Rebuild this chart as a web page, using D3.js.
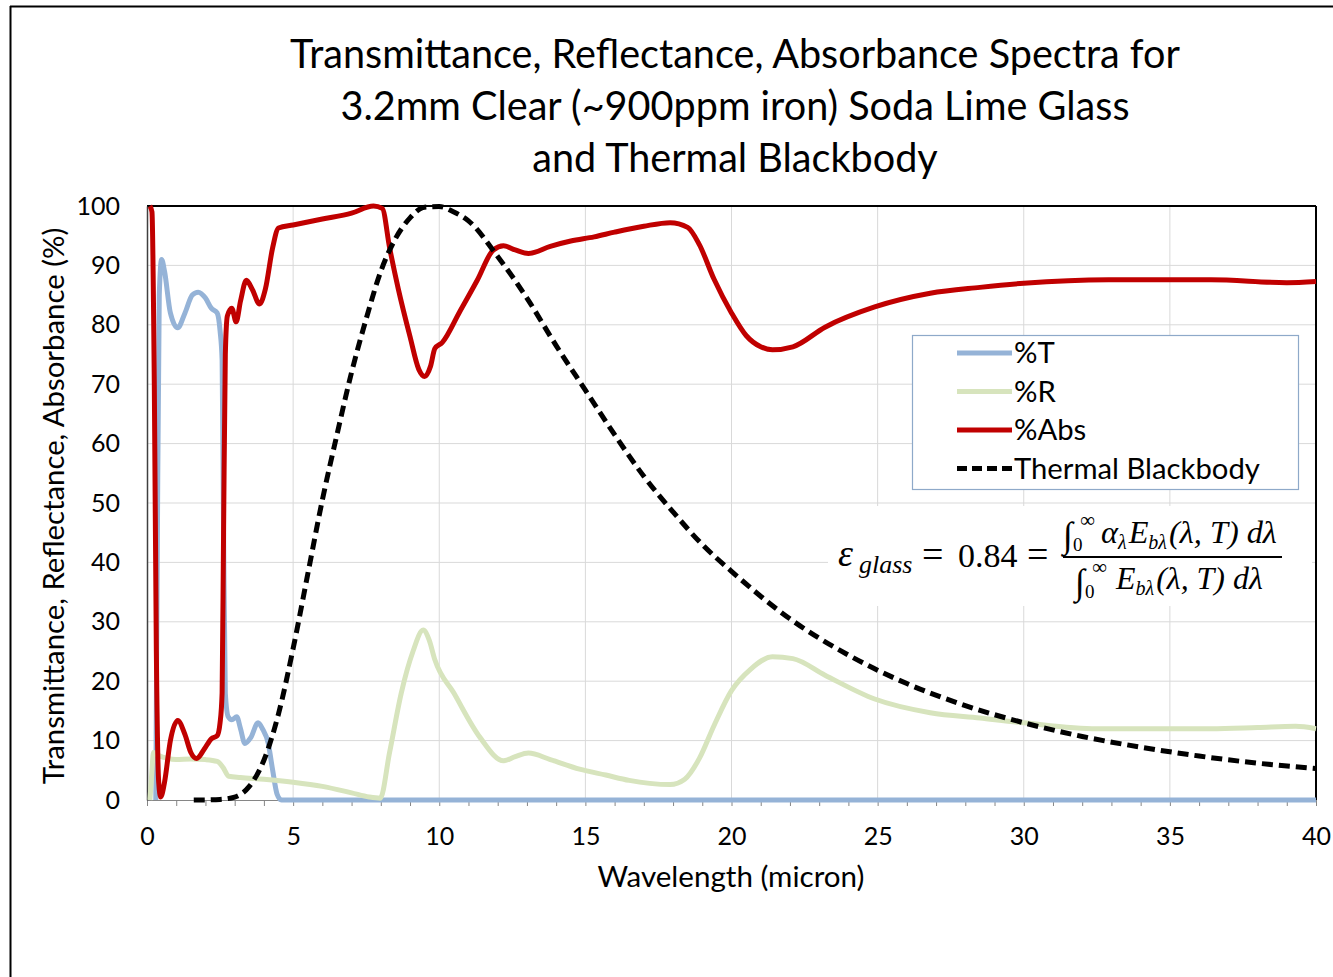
<!DOCTYPE html>
<html>
<head>
<meta charset="utf-8">
<script src="https://cdn.jsdelivr.net/npm/d3@7"></script>
<style>
  body { margin: 0; background: #fff; }
  svg { display: block; }
</style>
</head>
<body>
<div id="container"></div>
<script>

// data
var absData = [[0.1,100],[0.17,99],[0.25,70],[0.32,25],[0.4,3],[0.47,0.5],[0.6,3],[0.8,10],[1.05,13.4],[1.3,11],[1.5,8],[1.7,7],[1.95,8.5],[2.2,10.3],[2.4,10.8],[2.5,13],[2.57,18],[2.62,45],[2.68,75],[2.75,81.5],[2.9,82.8],[3.05,80.5],[3.2,84],[3.4,87.5],[3.6,86],[3.85,83.5],[4.05,86],[4.3,93],[4.5,96.3],[5,96.8],[6,97.8],[7,98.8],[7.75,100],[8.05,99.6],[8.3,93],[8.6,86],[9,78],[9.3,72.5],[9.5,71.3],[9.7,73],[9.85,76],[10.1,77],[10.7,82.2],[11.3,87.5],[11.85,92.6],[12.2,93.3],[12.6,92.6],[13.05,92],[13.8,93.2],[14.5,94.1],[15.3,94.8],[16,95.6],[17,96.6],[17.9,97.2],[18.5,96.4],[18.9,93.5],[19.4,87.7],[20,82],[20.5,78.2],[21,76.3],[21.4,75.8],[22.1,76.3],[23.2,79.6],[24.9,83],[26.8,85.3],[28.5,86.3],[30,87],[32.9,87.6],[36.4,87.6],[39,87.1],[40,87.3]];

var transData = [[0.3,0],[0.35,40],[0.42,85],[0.5,91],[0.6,89],[0.8,82],[1.05,79.5],[1.3,82],[1.55,85],[1.75,85.5],[2.0,84.5],[2.2,82.8],[2.4,82],[2.5,79],[2.57,74],[2.62,45],[2.68,18],[2.78,14],[2.9,13.5],[3.07,14],[3.2,12],[3.35,9.5],[3.55,10.5],[3.8,13],[3.95,12],[4.15,9.5],[4.3,5],[4.45,1],[4.6,0],[10,0],[20,0],[30,0],[40,0]];

var reflData = [[0.1,0],[0.17,5],[0.22,8],[0.4,7.5],[0.7,7],[1.0,6.8],[1.5,6.9],[2.0,6.8],[2.4,6.5],[2.6,5.5],[2.8,4],[3.2,3.8],[4,3.5],[5,3],[6,2.3],[7,1.2],[7.6,0.5],[7.98,0.3],[8.3,8],[8.7,18],[9.1,25],[9.45,28.6],[9.65,27],[9.85,23.6],[10.5,18],[11.4,10.5],[12.2,6.6],[12.6,7.3],[13.05,7.9],[13.8,6.8],[14.8,5.2],[15.7,4.2],[16.5,3.3],[17.2,2.8],[17.9,2.6],[18.4,3.5],[18.9,7],[19.4,12.5],[20,18.4],[20.65,22],[21.4,24.1],[22.1,23.8],[23.2,21],[24.9,17],[26.8,14.7],[28.5,13.8],[30,13],[32.5,12],[34.5,12],[36.4,12],[38,12.2],[39.3,12.4],[40,12]];

var bbData = [[1.6,0],[2,0.02],[2.5,0.1],[3,0.5],[3.5,2.3],[4,6.7],[4.5,14.5],[5,25.5],[5.5,38],[6,50.5],[6.5,61.5],[7,72],[7.5,81],[8,89],[8.5,94.5],[9,98],[9.5,99.8],[10,99.9],[10.5,99],[11,97.5],[12,91.5],[13,84.5],[14,76.5],[15,69],[16,61.5],[17,54.5],[18,48.5],[19,43],[20,38.5],[22,30.5],[24,24.4],[26,19.6],[28,15.9],[30,13],[32,10.7],[34,8.9],[36,7.4],[38,6.2],[40,5.3]];

var xMajor = [0, 5, 10, 15, 20, 25, 30, 35, 40];
var yMajor = [0, 10, 20, 30, 40, 50, 60, 70, 80, 90, 100];

var titleLines = ["Transmittance, Reflectance, Absorbance Spectra for",
                  "3.2mm Clear (~900ppm iron) Soda Lime Glass",
                  "and Thermal Blackbody"];

var series = [
  { name: "%T", data: transData, color: "#95B3D7", dash: null },
  { name: "%R", data: reflData, color: "#D7E4BD", dash: null },
  { name: "%Abs", data: absData, color: "#C00000", dash: null },
  { name: "Thermal Blackbody", data: bbData, color: "#000000", dash: "11,6" }
];

// layout
var W = 1333, H = 977,
    pLeft = 147, pRight = 1316, pTop = 206, pBottom = 800,
    font = "Lato, 'Open Sans', sans-serif",
    serif = "'Liberation Serif', 'DejaVu Serif', serif";

var svg = d3.select("#container").append("svg")
    .attr("width", W).attr("height", H);

// fit a text to a target width
function fit(sel, target) {
  var w = sel.node().getComputedTextLength();
  var fs = parseFloat(sel.attr("font-size"));
  sel.attr("font-size", fs * target / w);
  return sel;
}

// outer frame (top + left only, picture is cropped)
svg.append("line").attr("x1", 10).attr("x2", W).attr("y1", 6.5).attr("y2", 6.5)
    .attr("stroke", "#000").attr("stroke-width", 2);
svg.append("line").attr("x1", 10.5).attr("x2", 10.5).attr("y1", 6).attr("y2", H)
    .attr("stroke", "#000").attr("stroke-width", 2);

var x = d3.scaleLinear().domain([0, 40]).range([pLeft, pRight]);
var y = d3.scaleLinear().domain([0, 100]).range([pBottom, pTop]);

// grid
svg.append("g").selectAll("line")
    .data(yMajor.filter(function (d) { return d > 0 && d < 100; }))
    .enter().append("line")
    .attr("x1", pLeft).attr("x2", pRight)
    .attr("y1", function (d) { return y(d); }).attr("y2", function (d) { return y(d); })
    .attr("stroke", "#D9D9D9").attr("stroke-width", 1);

svg.append("g").selectAll("line")
    .data(xMajor.filter(function (d) { return d > 0 && d < 40; }))
    .enter().append("line")
    .attr("y1", pTop).attr("y2", pBottom)
    .attr("x1", function (d) { return x(d); }).attr("x2", function (d) { return x(d); })
    .attr("stroke", "#D9D9D9").attr("stroke-width", 1);

// plot frame
svg.append("line").attr("x1", pLeft).attr("x2", pRight).attr("y1", pTop).attr("y2", pTop)
    .attr("stroke", "#000").attr("stroke-width", 2);
svg.append("line").attr("x1", pRight).attr("x2", pRight).attr("y1", pTop).attr("y2", pBottom)
    .attr("stroke", "#000").attr("stroke-width", 2);

// axes
var minor = svg.append("g")
    .attr("transform", "translate(0," + pBottom + ")")
    .call(d3.axisBottom(x).tickValues(d3.range(0, 41, 1)).tickFormat("").tickSize(6).tickSizeOuter(0));
minor.select(".domain").attr("stroke", "#868686");
minor.selectAll(".tick line").attr("stroke", "#868686");

var xAxis = svg.append("g")
    .attr("transform", "translate(0," + pBottom + ")")
    .call(d3.axisBottom(x).tickValues(xMajor).tickSize(0).tickPadding(27).tickFormat(d3.format("d")));
xAxis.select(".domain").remove();
xAxis.selectAll("text").attr("font-family", font).attr("font-size", 25).attr("fill", "#000");

var yAxis = svg.append("g")
    .attr("transform", "translate(" + pLeft + ",0)")
    .call(d3.axisLeft(y).tickValues(yMajor).tickSize(0).tickPadding(27).tickFormat(d3.format("d")));
yAxis.select(".domain").attr("stroke", "#404040").attr("stroke-width", 1.5);
yAxis.selectAll("text").attr("font-family", font).attr("font-size", 25).attr("fill", "#000");

// series
var line = d3.line()
    .x(function (d) { return x(d[0]); })
    .y(function (d) { return y(d[1]); })
    .curve(d3.curveMonotoneX);

svg.append("g").selectAll("path")
    .data(series)
    .enter().append("path")
    .attr("d", function (d) { return line(d.data); })
    .attr("fill", "none")
    .attr("stroke", function (d) { return d.color; })
    .attr("stroke-width", 5)
    .attr("stroke-dasharray", function (d) { return d.dash; })
    .attr("stroke-linejoin", "round");

// title
var title = svg.append("g").attr("font-family", font).attr("fill", "#000").attr("text-anchor", "middle");
var t0 = title.append("text").attr("x", 735).attr("y", 68).attr("font-size", 34).text(titleLines[0]);
fit(t0, 890);
var tfs = t0.attr("font-size");
title.append("text").attr("x", 735).attr("y", 120).attr("font-size", tfs).text(titleLines[1]);
title.append("text").attr("x", 735).attr("y", 172).attr("font-size", tfs).text(titleLines[2]);

// axis titles
fit(svg.append("text").attr("x", 731).attr("y", 887)
    .attr("text-anchor", "middle").attr("font-family", font).attr("font-size", 24)
    .text("Wavelength (micron)"), 267);

fit(svg.append("text").attr("transform", "translate(64,506) rotate(-90)")
    .attr("text-anchor", "middle").attr("font-family", font).attr("font-size", 24)
    .text("Transmittance, Reflectance, Absorbance (%)"), 557);

// legend
var legend = svg.append("g");
legend.append("rect").attr("x", 912.5).attr("y", 335.5).attr("width", 386).attr("height", 154)
    .attr("fill", "#fff").attr("stroke", "#8EA9C9").attr("stroke-width", 1.2);

var rows = legend.selectAll("g.row").data(series).enter().append("g")
    .attr("transform", function (d, i) { return "translate(0," + (353 + i * 38.5) + ")"; });
rows.append("line").attr("x1", 957).attr("x2", 1012).attr("y1", 0).attr("y2", 0)
    .attr("stroke", function (d) { return d.color; })
    .attr("stroke-width", 5)
    .attr("stroke-dasharray", function (d) { return d.dash ? "10,5" : null; });
rows.append("text").attr("x", 1014).attr("y", 0).attr("dy", "0.35em")
    .attr("font-family", font).attr("font-size", 24).attr("fill", "#000")
    .text(function (d) { return d.name; });
fit(rows.filter(function (d, i) { return i == 3; }).select("text"), 246);
var lfs = rows.filter(function (d, i) { return i == 3; }).select("text").attr("font-size");
rows.selectAll("text").attr("font-size", lfs);

// emissivity equation
var eq = svg.append("g").attr("font-family", serif).attr("fill", "#000");
eq.append("rect").attr("x", 828).attr("y", 506).attr("width", 484).attr("height", 100).attr("fill", "#fff");

function put(txt, xx, yy, size, italic) {
  return eq.append("text").attr("x", xx).attr("y", yy).attr("font-size", size)
    .attr("font-style", italic ? "italic" : "normal").text(txt);
}

// left-hand side
put("\u03B5", 838, 566, 38, true);
put("glass", 859, 573, 26, true);
put("=", 922, 567, 38, false);
put("0.84", 958, 567, 34, false);
put("=", 1027, 567, 38, false);

eq.append("line").attr("x1", 1063).attr("x2", 1282).attr("y1", 557).attr("y2", 557)
    .attr("stroke", "#000").attr("stroke-width", 1.8);

// numerator
put("\u222B", 1063, 547, 36, false);
put("0", 1073, 551, 19, false);
put("\u221E", 1080, 527, 21, false);
var num = eq.append("text").attr("x", 1101).attr("y", 543).attr("font-size", 30).attr("font-style", "italic");
num.append("tspan").text("\u03B1");
num.append("tspan").attr("font-size", 20).attr("dy", 6).text("\u03BB");
num.append("tspan").attr("dy", -6).attr("dx", 2).text("E");
num.append("tspan").attr("font-size", 20).attr("dy", 6).text("b\u03BB");
num.append("tspan").attr("dy", -6).attr("dx", 2).text("(\u03BB, T) d\u03BB");
fit(num, 174);

// denominator
put("\u222B", 1075, 594, 36, false);
put("0", 1085, 598, 19, false);
put("\u221E", 1092, 574, 21, false);
var den = eq.append("text").attr("x", 1116).attr("y", 589).attr("font-size", 30).attr("font-style", "italic");
den.append("tspan").text("E");
den.append("tspan").attr("font-size", 20).attr("dy", 6).text("b\u03BB");
den.append("tspan").attr("dy", -6).attr("dx", 2).text("(\u03BB, T) d\u03BB");
fit(den, 146);

</script>
</body>
</html>
